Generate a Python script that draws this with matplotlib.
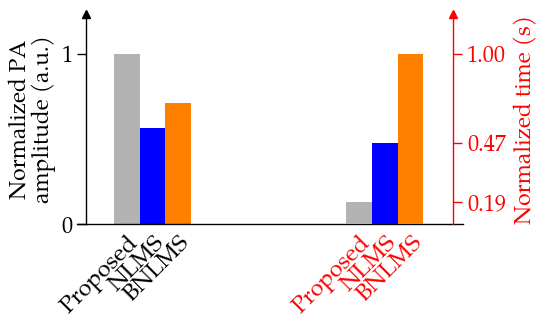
import matplotlib
matplotlib.use("Agg")
import matplotlib.pyplot as plt

methods = ["Proposed", "NLMS", "BNLMS"]
amplitude = [1.0, 0.565, 0.71]          # normalized PA amplitude (left axis)
time_vals = [0.131, 0.478, 1.0]         # normalized time bar heights (right axis)
time_tick_labels = ["0.19", "0.47", "1.00"]
amp_ticks = [0, 1]
amp_tick_labels = ["0", "1"]
colors = ["#b3b3b3", "#0000ff", "#ff8000"]

plt.rcParams['font.family'] = ['TeX Gyre Pagella', 'DejaVu Serif']

fig = plt.figure(figsize=(5.5, 3.21), dpi=100)
ax = fig.add_axes([86/550, 1-224/321, (453-86)/550, (224-14)/321])
ax2 = ax.twinx()

pos_left = [0, 1, 2]
pos_right = [9, 10, 11]
ax.bar(pos_left, amplitude, width=1.0, color=colors, zorder=2)
ax2.bar(pos_right, time_vals, width=1.0, color=colors, zorder=2)

ax.set_xlim(-1.58, 12.65)
ax.set_ylim(0, 1.235)
ax2.set_ylim(0, 1.235)

for a in (ax, ax2):
    for s in ['top', 'bottom']:
        a.spines[s].set_visible(False)
ax.spines['right'].set_visible(False)
ax2.spines['left'].set_visible(False)
ax2.spines['right'].set_color('red')
ax.spines['left'].set_linewidth(1.0)
ax2.spines['right'].set_linewidth(1.0)

# x axis line extending beyond spines
ax.axhline(0, xmin=-0.025, xmax=1.028, color='black', lw=1.0, clip_on=False, zorder=3)

# arrows
ax.plot([0], [1], marker='^', color='black', markersize=6, transform=ax.transAxes, clip_on=False)
ax2.plot([1], [1], marker='^', color='red', markersize=6, transform=ax2.transAxes, clip_on=False)

ax.set_yticks(amp_ticks)
ax.set_yticklabels(amp_tick_labels)
ax.tick_params(axis='y', direction='out', length=6.5, width=1.0, pad=3, labelsize=16)

ax2.set_yticks(time_vals)
ax2.set_yticklabels(time_tick_labels)
ax2.tick_params(axis='y', direction='out', length=6.5, width=1.0, pad=3.5, labelsize=16,
                colors='red')

ax.set_xticks(pos_left + pos_right)
ax.set_xticklabels(methods + methods, rotation=45, ha='right', va='top',
                   rotation_mode='anchor', fontsize=17)
ax.tick_params(axis='x', length=0, pad=5)
for lbl in ax.get_xticklabels()[3:]:
    lbl.set_color('red')

ax.set_ylabel("Normalized PA\namplitude (a.u.)", fontsize=16.5, linespacing=0.95, labelpad=4)
ax2.set_ylabel("Normalized time (s)", fontsize=16.5, color='red', labelpad=6)

fig.savefig("out.png", dpi=100)
